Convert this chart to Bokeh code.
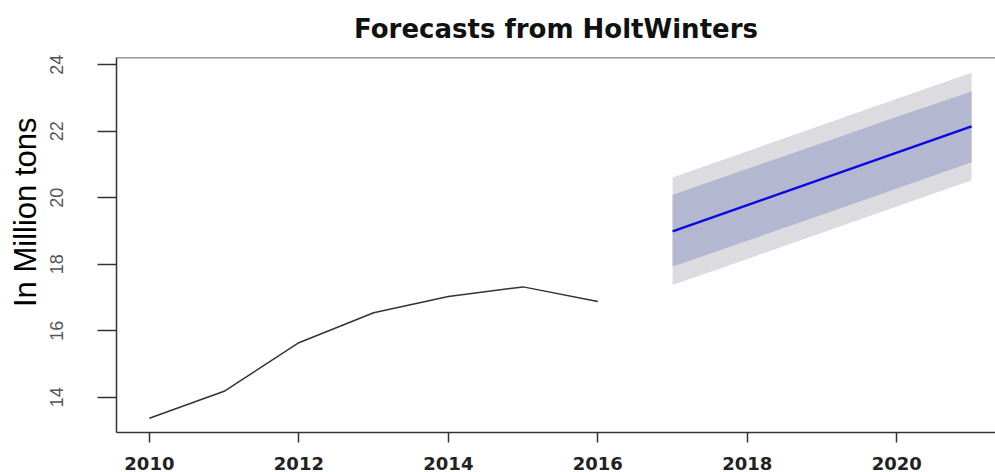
from bokeh.plotting import figure
from bokeh.models import Range1d, FixedTicker, Span, Title
from bokeh.embed import file_html
from bokeh.resources import INLINE

hist_years = [2010, 2011, 2012, 2013, 2014, 2015, 2016]
hist_values = [13.37, 14.18, 15.64, 16.54, 17.03, 17.32, 16.88]

fc_years = [2017, 2018, 2019, 2020, 2021]
fc_mean = [18.99, 19.78, 20.57, 21.36, 22.15]
fc_lo80 = [17.93, 18.71, 19.49, 20.28, 21.07]
fc_hi80 = [20.09, 20.87, 21.65, 22.44, 23.20]
fc_lo95 = [17.38, 18.16, 18.95, 19.74, 20.53]
fc_hi95 = [20.61, 21.40, 22.19, 22.98, 23.76]

x_ticks = [2010, 2012, 2014, 2016, 2018, 2020]
y_ticks = [14, 16, 18, 20, 22, 24]

p = figure(width=995, height=472, output_backend="svg", toolbar_location=None,
           x_range=Range1d(2009.56, 2021.32), y_range=Range1d(12.94, 24.22),
           min_border_left=116, min_border_right=0, min_border_top=57, min_border_bottom=0)

p.background_fill_color = "white"
p.border_fill_color = "white"
p.outline_line_color = None
p.grid.visible = False

# title
p.title.text = "Forecasts from HoltWinters"
p.title.align = "center"
p.title.vertical_align = "top"
p.title.text_font = "DejaVu Sans"
p.title.text_font_style = "bold"
p.title.text_font_size = "26px"
p.title.text_color = "#111111"
p.title.standoff = 24

# y-axis label as left title
ylab = Title(text="In Million tons", align="right", offset=60,
             text_font="Liberation Sans", text_font_style="normal",
             text_font_size="31px", text_color="black")
p.add_layout(ylab, "left")

# x axis
xa = p.xaxis[0]
xa.ticker = FixedTicker(ticks=x_ticks)
xa.major_tick_out = 10
xa.major_tick_in = 0
xa.minor_tick_line_color = None
xa.axis_line_color = "#333333"
xa.axis_line_width = 1.5
xa.major_tick_line_color = "#333333"
xa.major_tick_line_width = 1.5
xa.major_label_text_font = "DejaVu Sans"
xa.major_label_text_font_style = "bold"
xa.major_label_text_font_size = "18px"
xa.major_label_text_color = "#222222"
xa.major_label_standoff = 14

# y axis
ya = p.yaxis[0]
ya.ticker = FixedTicker(ticks=y_ticks)
ya.major_tick_out = 19
ya.major_tick_in = 0
ya.minor_tick_line_color = None
ya.axis_line_color = "#333333"
ya.axis_line_width = 1.5
ya.major_tick_line_color = "#333333"
ya.major_tick_line_width = 1.5
ya.major_label_orientation = "vertical"
ya.major_label_text_font = "Liberation Sans"
ya.major_label_text_font_size = "18px"
ya.major_label_text_color = "#555555"
ya.major_label_standoff = 34

# top border
p.add_layout(Span(location=24.22, dimension="width", line_color="#333333", line_width=1.5))

# forecast bands
p.varea(x=fc_years, y1=fc_lo95, y2=fc_hi95, fill_color="#dcdce0")
p.varea(x=fc_years, y1=fc_lo80, y2=fc_hi80, fill_color="#b3b7cf")
p.line(fc_years, fc_mean, line_color="#0a0ae0", line_width=2.5)

# history
p.line(hist_years, hist_values, line_color="#333333", line_width=1.5)

open("out.html", "w").write(file_html(p, INLINE))
